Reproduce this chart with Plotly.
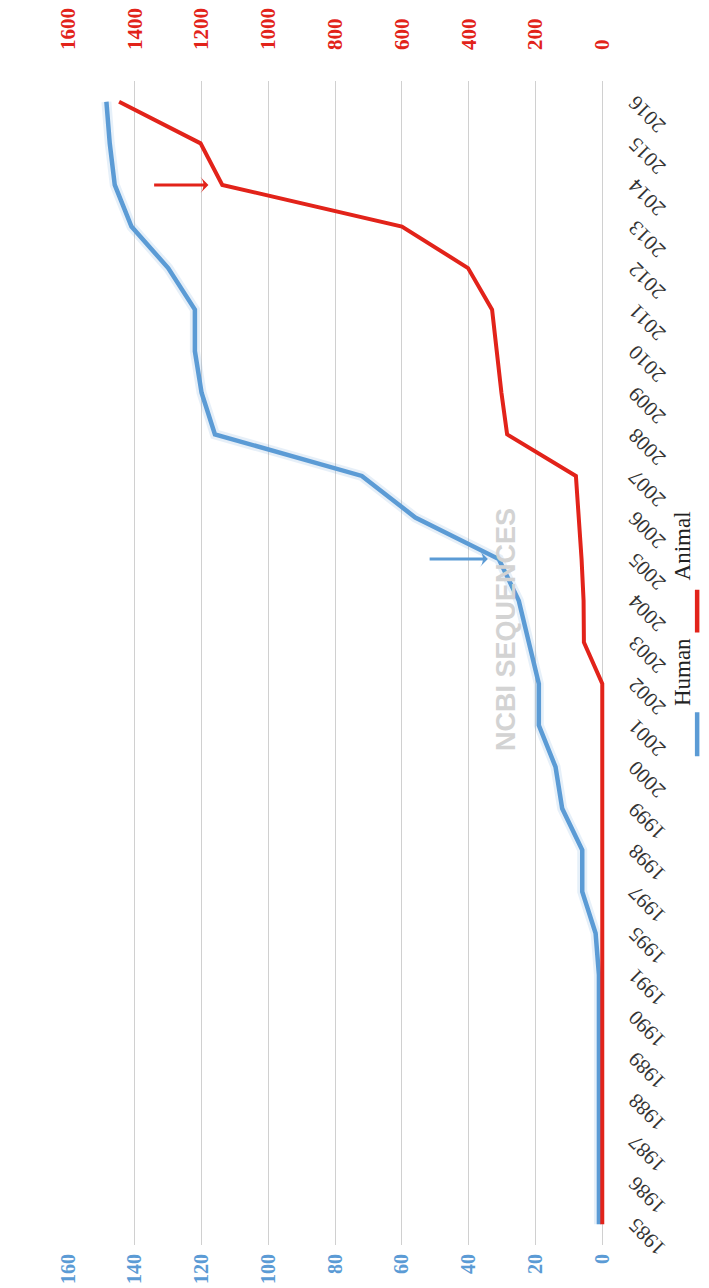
import plotly.graph_objects as go

years = ["1985", "1986", "1987", "1988", "1989", "1990", "1991", "1995", "1997",
         "1998", "1999", "2000", "2001", "2002", "2003", "2004", "2005", "2006",
         "2007", "2008", "2009", "2010", "2011", "2012", "2013", "2014", "2015", "2016"]
human = [1, 1, 1, 1, 1, 1, 1, 2, 6, 6, 12, 14, 19, 19, 22, 25, 31, 56, 72,
         116, 120, 122, 122, 130, 141, 146, 147.5, 148.5]
animal = [0, 0, 0, 0, 0, 0, 0, 0, 0, 0, 0, 0, 0, 0, 55, 56, 62, 70, 79,
          285, 302, 316, 330, 402, 600, 1138, 1203, 1447]
human_ticks = [0, 20, 40, 60, 80, 100, 120, 140, 160]
animal_ticks = [0, 200, 400, 600, 800, 1000, 1200, 1400, 1600]

BLUE = "#5b9bd5"
RED = "#e2231a"
W, H = 709, 1288
L, T, B = 60, 70, 51
PLOT_R = 605                      # right edge of the plotting area (px)
paper_w = W - L
ph = H - T - B
dom_end = (PLOT_R - L) / paper_w
HUMAN_RANGE = [160, -1.2]
ANIMAL_RANGE = [1600, -12]
pw = PLOT_R - L
hu_per_px = (HUMAN_RANGE[0] - HUMAN_RANGE[1]) / pw
an_per_px = (ANIMAL_RANGE[0] - ANIMAL_RANGE[1]) / pw


def to_px(xp):
    return (xp - L) / paper_w


def to_py(yp):
    return (H - B - yp) / ph


fig = go.Figure()
fig.add_trace(go.Scatter(x=human, y=years, mode="lines", xaxis="x", yaxis="y",
                         line=dict(color=BLUE, width=10), opacity=0.15,
                         showlegend=False, hoverinfo="skip"))
fig.add_trace(go.Scatter(x=human, y=years, mode="lines", name="Human",
                         xaxis="x", yaxis="y",
                         line=dict(color=BLUE, width=4.5), showlegend=False))
fig.add_trace(go.Scatter(x=animal, y=years, mode="lines", name="Animal",
                         xaxis="x2", yaxis="y",
                         line=dict(color=RED, width=4), showlegend=False))


def pointer(series, year, per_px, tail_px, tip_px, color, xaxis):
    v = series[years.index(year)]
    return go.Scatter(
        x=[v + tail_px * per_px, v + (tip_px + 3) * per_px], y=[year, year],
        mode="lines", xaxis=xaxis, yaxis="y",
        line=dict(color=color, width=3),
        showlegend=False, hoverinfo="skip")


def pointer_head(series, year, per_px, tip_px, color, xaxis):
    v = series[years.index(year)]
    return go.Scatter(
        x=[v + tip_px * per_px], y=[year], mode="markers",
        xaxis=xaxis, yaxis="y",
        marker=dict(symbol="arrow-wide", size=12, angle=90, color=color,
                    line=dict(width=0)),
        showlegend=False, hoverinfo="skip")


# callout arrows (offsets in pixels, converted through each axis scale)
fig.add_trace(pointer(animal, "2014", an_per_px, 69, 14, RED, "x2"))
fig.add_trace(pointer_head(animal, "2014", an_per_px, 14, RED, "x2"))
fig.add_trace(pointer(human, "2005", hu_per_px, 70, 11, BLUE, "x"))
fig.add_trace(pointer_head(human, "2005", hu_per_px, 11, BLUE, "x"))

# legend keys on a hidden pixel-space subplot to the right of the chart
fig.add_trace(go.Scatter(x=[697, 697], y=[703, 747], mode="lines", xaxis="x3",
                         yaxis="y3", line=dict(color=BLUE, width=4.5),
                         showlegend=False, hoverinfo="skip"))
fig.add_trace(go.Scatter(x=[697, 697], y=[580, 623], mode="lines", xaxis="x3",
                         yaxis="y3", line=dict(color=RED, width=4.5),
                         showlegend=False, hoverinfo="skip"))

serif = "Liberation Serif"
fig.update_layout(
    width=W, height=H,
    margin=dict(l=L, r=0, t=T, b=B),
    paper_bgcolor="white", plot_bgcolor="white",
    xaxis=dict(domain=[0, dom_end], range=HUMAN_RANGE, tickvals=human_ticks,
               ticktext=[str(v) for v in human_ticks], anchor="y",
               side="bottom", tickangle=-90,
               tickfont=dict(family=serif, size=20, color=BLUE, weight="bold"),
               showgrid=True, gridcolor="#d0d0d0", gridwidth=1,
               zeroline=False, showline=False, ticks="", ticklabelstandoff=4),
    xaxis2=dict(domain=[0, dom_end], range=ANIMAL_RANGE, tickvals=animal_ticks,
                ticktext=[str(v) for v in animal_ticks], anchor="y",
                overlaying="x", side="top", tickangle=-90,
                tickfont=dict(family=serif, size=21, color=RED, weight="bold"),
                showgrid=False, zeroline=False, showline=False, ticks="",
                ticklabelstandoff=30),
    yaxis=dict(type="category", categoryorder="array", categoryarray=years,
               range=[-0.5, len(years) - 0.5], side="right", anchor="x",
               tickangle=-135, domain=[0, 1],
               tickfont=dict(family=serif, size=21, color="#333333"),
               showgrid=False, zeroline=False, showline=False, ticks="",
               ticklabelstandoff=52, ticklabelshift=33),
    xaxis3=dict(domain=[dom_end, 1], range=[PLOT_R, W], visible=False,
                anchor="y3", fixedrange=True),
    yaxis3=dict(domain=[0, 1], range=[H - B, T], visible=False,
                anchor="x3", fixedrange=True),
)

annotations = [
    dict(text="<b>NCBI SEQUENCES</b>", xref="paper", yref="paper",
         x=to_px(520), y=to_py(620), textangle=-90, showarrow=False,
         font=dict(family="Liberation Sans", size=27, color="#d3d3d3")),
    dict(text="Human", xref="paper", yref="paper", x=to_px(697), y=to_py(663),
         textangle=-90, showarrow=False,
         font=dict(family=serif, size=23, color="#222222")),
    dict(text="Animal", xref="paper", yref="paper", x=to_px(697), y=to_py(536),
         textangle=-90, showarrow=False,
         font=dict(family=serif, size=23, color="#222222")),
]
fig.update_layout(annotations=annotations)

fig.write_html("out.html")
